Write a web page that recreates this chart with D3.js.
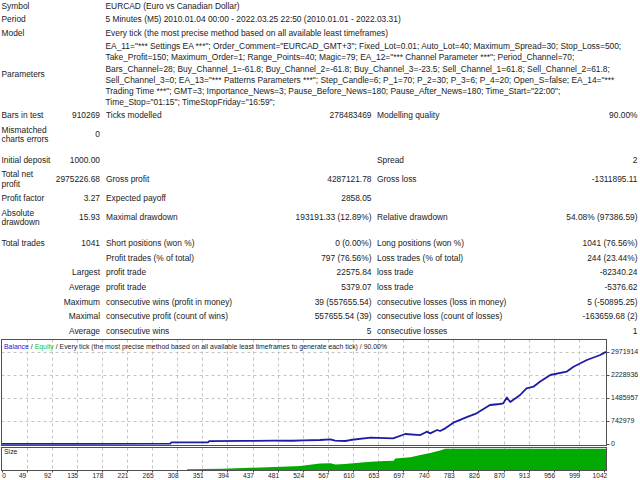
<!DOCTYPE html>
<html>
<head>
<meta charset="utf-8">
<script src="https://cdn.jsdelivr.net/npm/d3@7/dist/d3.min.js"></script>
<style>
  body { margin: 0; background: #fff; }
  svg text { font-family: "Liberation Sans", Arial, sans-serif; fill: #222; }
</style>
</head>
<body>
<svg id="canvas" width="640" height="480"></svg>
<script>
// ---------------- report data ----------------
let headerRows = [
  ['Symbol', 'EURCAD (Euro vs Canadian Dollar)'],
  ['Period', '5 Minutes (M5) 2010.01.04 00:00 - 2022.03.25 22:50 (2010.01.01 - 2022.03.31)'],
  ['Model', 'Every tick (the most precise method based on all available least timeframes)']
];
let paramLines = [
  'EA_11="*** Settings EA ***"; Order_Comment="EURCAD_GMT+3"; Fixed_Lot=0.01; Auto_Lot=40; Maximum_Spread=30; Stop_Loss=500;',
  'Take_Profit=150; Maximum_Order=1; Range_Points=40; Magic=79; EA_12="*** Channel Parameter ***"; Period_Channel=70;',
  'Bars_Channel=28; Buy_Channel_1=-61.8; Buy_Channel_2=-61.8; Buy_Channel_3=-23.5; Sell_Channel_1=61.8; Sell_Channel_2=61.8;',
  'Sell_Channel_3=0; EA_13="*** Patterns Parameters ***"; Step_Candle=6; P_1=70; P_2=30; P_3=6; P_4=20; Open_S=false; EA_14="***',
  'Trading Time ***"; GMT=3; Importance_News=3; Pause_Before_News=180; Pause_After_News=180; Time_Start="22:00";',
  'Time_Stop="01:15"; TimeStopFriday="16:59";'
];
// label (lines), value, label2, value2, label3, value3
let statRows = [
  [['Bars in test'], '910269', 'Ticks modelled', '278483469', 'Modelling quality', '90.00%'],
  [['Mismatched', 'charts errors'], '0', '', '', '', ''],
  [['Initial deposit'], '1000.00', '', '', 'Spread', '2'],
  [['Total net', 'profit'], '2975226.68', 'Gross profit', '4287121.78', 'Gross loss', '-1311895.11'],
  [['Profit factor'], '3.27', 'Expected payoff', '2858.05', '', ''],
  [['Absolute', 'drawdown'], '15.93', 'Maximal drawdown', '193191.33 (12.89%)', 'Relative drawdown', '54.08% (97386.59)'],
  [['Total trades'], '1041', 'Short positions (won %)', '0 (0.00%)', 'Long positions (won %)', '1041 (76.56%)']
];
let tradeRows = [
  ['', 'Profit trades (% of total)', '797 (76.56%)', 'Loss trades (% of total)', '244 (23.44%)'],
  ['Largest', 'profit trade', '22575.84', 'loss trade', '-82340.24'],
  ['Average', 'profit trade', '5379.07', 'loss trade', '-5376.62'],
  ['Maximum', 'consecutive wins (profit in money)', '39 (557655.54)', 'consecutive losses (loss in money)', '5 (-50895.25)'],
  ['Maximal', 'consecutive profit (count of wins)', '557655.54 (39)', 'consecutive loss (count of losses)', '-163659.68 (2)'],
  ['Average', 'consecutive wins', '5', 'consecutive losses', '1']
];

// ---------------- chart data ----------------
// trade number, balance
let tradeIdx = [0, 150, 290, 292, 355, 357, 420, 470, 500, 520, 548, 566, 574, 592, 600, 635, 674, 695, 721, 732, 738,
  750, 755, 764, 778, 801, 818, 841, 858, 864, 870, 876, 893, 904, 916, 927, 945, 973, 985, 1008, 1031, 1041];
let balance = [1000, 3000, 10000, 50000, 55000, 95000, 100000, 110000, 105000, 115000, 129000, 151000, 107000, 97000,
  129000, 205000, 184000, 323000, 290000, 398000, 345000, 452000, 420000, 506000, 689000, 870000, 991000, 1260000,
  1292000, 1314000, 1500000, 1357000, 1583000, 1800000, 1851000, 2013000, 2229000, 2336000, 2497000, 2713000,
  2875000, 2976227];
// trade number, lot size
let sizeIdx = [319, 380, 428, 470, 514, 548, 566, 575, 591, 600, 635, 660, 675, 678, 704, 721, 738, 755, 764, 1041];
let sizeLots = [1.5, 3, 5, 7, 9.5, 15, 16, 13, 14, 15, 19.5, 21, 22, 27, 30, 35, 40, 46, 50, 50];

let yTickValues = [0, 742979, 1485957, 2228936, 2971914];
let xTickLabels = ['0', '49', '92', '135', '178', '221', '265', '308', '351', '394', '437', '481', '524', '567',
  '610', '653', '697', '740', '783', '826', '870', '913', '956', '999', '1042'];

let svg = d3.select('#canvas');
svg.append('rect').attr('width', 640).attr('height', 480).attr('fill', '#fff');

// ---------------- table ----------------
let fs = 8.4;
let txt = (x, y, s, anchor, size) => svg.append('text')
  .attr('x', x).attr('y', y).attr('dy', '0.35em')
  .attr('text-anchor', anchor || 'start')
  .style('font-size', (size || fs) + 'px')
  .text(s);

let c1 = 1.5, c1r = 100, c2 = 106, c3r = 371.5, c4 = 377, c5r = 637.5;

headerRows.forEach((r, i) => {
  let y = 5.7 + i * 13.8;
  txt(c1, y, r[0]);
  txt(c2 - 0.5, y, r[1]);
});
txt(c1, 74, 'Parameters');
paramLines.forEach((l, i) => txt(c2 - 0.5, 46 + i * 11.3, l));

let statY = [115, 134.5, 159.7, 179, 198.2, 217.5, 243.3];
statRows.forEach((r, i) => {
  let y = statY[i];
  if (r[0].length === 1) {
    txt(c1, y, r[0][0]);
  } else {
    txt(c1, y - 4.8, r[0][0]);
    txt(c1, y + 4.6, r[0][1]);
  }
  txt(c1r, y, r[1], 'end');
  txt(c2, y, r[2]);
  txt(c3r, y, r[3], 'end');
  txt(c4, y, r[4]);
  txt(c5r, y, r[5], 'end');
});

tradeRows.forEach((r, i) => {
  let y = 257.9 + i * 14.56;
  txt(c1r, y, r[0], 'end');
  txt(c2, y, r[1]);
  txt(c3r, y, r[2], 'end');
  txt(c4, y, r[3]);
  txt(c5r, y, r[4], 'end');
});

// ---------------- chart ----------------
let left = 1.5, right = 606.5, mainTop = 339.5, mainBottom = 445.5, sizeTop = 447.5, sizeBottom = 470.5;

let x = d3.scaleLinear().domain([0, 1041]).range([2, 606]);
let y = d3.scaleLinear().domain([0, 2971914]).range([444, 352]);
let ySize = d3.scaleLinear().domain([0, 54]).range([470, 447]);
let xGrid = d3.scaleLinear().domain([0, 24]).range([left, left + 24 * 25.1]);

let grid = svg.append('g').attr('stroke', '#c4c4c4').attr('stroke-dasharray', '3,3').attr('stroke-width', 1);
d3.range(1, 24).forEach(k => {
  let gx = Math.round(xGrid(k)) + 0.5;
  grid.append('line').attr('x1', gx).attr('x2', gx).attr('y1', mainTop).attr('y2', mainBottom);
  grid.append('line').attr('x1', gx).attr('x2', gx).attr('y1', sizeTop).attr('y2', sizeBottom);
});
yTickValues.slice(1).forEach(v => {
  let gy = Math.round(y(v)) + 0.5;
  grid.append('line').attr('x1', left).attr('x2', right).attr('y1', gy).attr('y2', gy);
});

// size pane
let sizeData = sizeIdx.map((d, i) => [d, sizeLots[i]]);
svg.append('path')
  .datum(sizeData)
  .attr('fill', '#00aa00')
  .attr('d', d3.area().x(d => x(d[0])).y0(470).y1(d => ySize(d[1])));

// balance line
let balData = tradeIdx.map((d, i) => [d, balance[i]]);
svg.append('path')
  .datum(balData)
  .attr('fill', 'none')
  .attr('stroke', '#1c1ca6')
  .attr('stroke-width', 1.8)
  .attr('stroke-linejoin', 'round')
  .attr('d', d3.line().x(d => x(d[0])).y(d => y(d[1])));

// frames
svg.append('rect').attr('x', left).attr('y', mainTop).attr('width', right - left).attr('height', mainBottom - mainTop)
  .attr('fill', 'none').attr('stroke', '#505050');
svg.append('rect').attr('x', left).attr('y', sizeTop).attr('width', right - left).attr('height', sizeBottom - sizeTop)
  .attr('fill', 'none').attr('stroke', '#505050');

// right axis labels
yTickValues.forEach(v => {
  svg.append('line').attr('x1', right).attr('x2', right + 3).attr('y1', Math.round(y(v)) + 0.5)
    .attr('y2', Math.round(y(v)) + 0.5).attr('stroke', '#505050');
  txt(611, y(v), String(v), 'start', 7);
});

// bottom axis labels
xTickLabels.forEach((l, k) => {
  let lx = Math.max(4, xGrid(k) - 4);
  svg.append('line').attr('x1', Math.round(xGrid(k)) + 0.5).attr('x2', Math.round(xGrid(k)) + 0.5)
    .attr('y1', sizeBottom).attr('y2', sizeBottom + 2).attr('stroke', '#505050');
  txt(lx, 476, l, 'middle', 6.6);
});

txt(4, 452, 'Size', 'start', 6.9);

// legend title
let title = svg.append('text').attr('x', 4).attr('y', 346.7).attr('dy', '0.35em').style('font-size', '6.9px');
title.append('tspan').text('Balance').style('fill', '#2020e0');
title.append('tspan').text(' / ');
title.append('tspan').text('Equity').style('fill', '#20c020');
title.append('tspan').text(' / Every tick (the most precise method based on all available least timeframes to generate each tick) / 90.00%');
</script>
</body>
</html>
